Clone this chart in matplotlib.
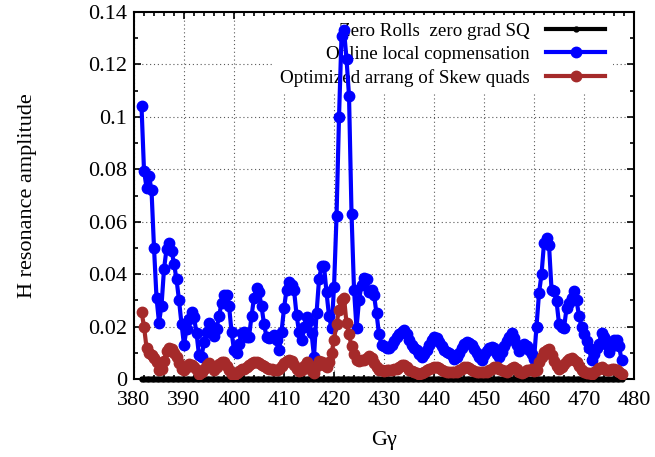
import matplotlib
matplotlib.use("Agg")
import matplotlib.pyplot as plt
import numpy as np
from matplotlib.ticker import MultipleLocator, FuncFormatter

# G gamma sampled every 0.5 from 381.5 to 477.5
g_start, g_stop, g_step = 381.5, 477.5, 0.5

online_comp = [
    0.104, 0.0795, 0.073, 0.0775, 0.072, 0.050, 0.031, 0.0215, 0.028, 0.042,
    0.0495, 0.052, 0.049, 0.044, 0.038, 0.030, 0.021, 0.013, 0.019, 0.023,
    0.0255, 0.0235, 0.0175, 0.009, 0.0085, 0.014, 0.018, 0.0213, 0.020, 0.0165,
    0.019, 0.024, 0.029, 0.032, 0.032, 0.028, 0.018, 0.011, 0.010, 0.0135,
    0.0175, 0.0178, 0.016, 0.016, 0.024, 0.031, 0.0347, 0.033, 0.0277, 0.021,
    0.016, 0.0156, 0.0162, 0.0168, 0.015, 0.011, 0.018, 0.027, 0.034, 0.037,
    0.036, 0.034, 0.0245, 0.018, 0.015, 0.020, 0.0235, 0.022, 0.0175, 0.0085,
    0.025, 0.038, 0.043, 0.043, 0.033, 0.024, 0.0194, 0.035, 0.062, 0.100,
    0.131, 0.133, 0.122, 0.108, 0.063, 0.034, 0.0194, 0.030, 0.036, 0.0385,
    0.038, 0.033, 0.034, 0.032, 0.025, 0.017, 0.013, 0.0124, 0.012, 0.0117,
    0.013, 0.0145, 0.016, 0.017, 0.018, 0.0185, 0.017, 0.015, 0.013, 0.012,
    0.011, 0.0095, 0.0085, 0.0095, 0.011, 0.013, 0.015, 0.016, 0.0155, 0.014,
    0.0125, 0.011, 0.0102, 0.0098, 0.009, 0.0075, 0.0085, 0.010, 0.012, 0.0133,
    0.0143, 0.0138, 0.013, 0.0115, 0.0098, 0.0085, 0.0073, 0.009, 0.0108, 0.012,
    0.0122, 0.0117, 0.0095, 0.0082, 0.0104, 0.0125, 0.0145, 0.016, 0.0175, 0.0155,
    0.013, 0.0105, 0.012, 0.0133, 0.0124, 0.011, 0.0095, 0.0075, 0.020, 0.0328,
    0.040, 0.052, 0.0538, 0.051, 0.034, 0.0335, 0.0296, 0.021, 0.020, 0.0195,
    0.027, 0.029, 0.031, 0.0334, 0.030, 0.024, 0.020, 0.017, 0.0145, 0.012,
    0.0073, 0.0095, 0.012, 0.0135, 0.0175, 0.016, 0.013, 0.0104, 0.0124, 0.015,
    0.015, 0.0125, 0.0073,
]

skew_quads = [
    0.0257, 0.020, 0.012, 0.010, 0.009, 0.008, 0.0065, 0.0035, 0.004, 0.007,
    0.0105, 0.0117, 0.0115, 0.010, 0.0085, 0.0062, 0.004, 0.0034, 0.0045, 0.0058,
    0.0055, 0.0045, 0.0034, 0.002, 0.0025, 0.004, 0.0055, 0.006, 0.0048, 0.0036,
    0.0045, 0.0058, 0.0066, 0.0064, 0.005, 0.0035, 0.002, 0.0015, 0.0022, 0.003,
    0.0038, 0.004, 0.0045, 0.0052, 0.006, 0.0065, 0.0066, 0.0062, 0.0055, 0.0048,
    0.0042, 0.004, 0.0037, 0.0035, 0.0034, 0.0038, 0.005, 0.0062, 0.007, 0.0073,
    0.0068, 0.0055, 0.004, 0.003, 0.0035, 0.005, 0.0064, 0.0055, 0.003, 0.0022,
    0.005, 0.007, 0.0065, 0.0055, 0.0047, 0.0065, 0.0098, 0.015, 0.021, 0.0265,
    0.030, 0.031, 0.0213, 0.017, 0.0124, 0.0095, 0.0073, 0.007, 0.0072, 0.0073,
    0.008, 0.0088, 0.008, 0.0062, 0.0047, 0.0036, 0.0033, 0.0032, 0.0033, 0.0034,
    0.0036, 0.0038, 0.004, 0.0046, 0.0052, 0.0054, 0.0045, 0.0036, 0.003, 0.0026,
    0.0022, 0.002, 0.0022, 0.0028, 0.0034, 0.0039, 0.0043, 0.0046, 0.0047, 0.0042,
    0.0036, 0.003, 0.0028, 0.0026, 0.0025, 0.0026, 0.0028, 0.0034, 0.004, 0.0044,
    0.0045, 0.0042, 0.0036, 0.003, 0.0028, 0.0026, 0.0025, 0.0026, 0.0028, 0.0034,
    0.004, 0.0044, 0.0045, 0.004, 0.0034, 0.003, 0.0028, 0.0034, 0.0042, 0.0045,
    0.004, 0.0025, 0.0022, 0.0028, 0.0033, 0.0036, 0.0038, 0.003, 0.0035, 0.0065,
    0.0085, 0.0102, 0.0112, 0.0115, 0.009, 0.007, 0.005, 0.004, 0.0045, 0.0057,
    0.0068, 0.0076, 0.0079, 0.0073, 0.0066, 0.005, 0.0034, 0.0028, 0.0024, 0.0021,
    0.002, 0.0025, 0.0033, 0.0042, 0.0047, 0.004, 0.0034, 0.0034, 0.0037, 0.004,
    0.0035, 0.0025, 0.002,
]

ggamma = np.arange(g_start, g_stop + g_step / 2, g_step)
zero_rolls = [0.0] * len(ggamma)

labels = ["Zero Rolls  zero grad SQ", "Online local copmensation",
          "Optimized arrang of Skew quads"]

plt.rcParams['font.family'] = ['Liberation Serif', 'DejaVu Serif']

fig = plt.figure(figsize=(6.55, 4.57), dpi=100)
ax = fig.add_axes([0.2046, 0.1707, 0.7634, 0.803])

ax.plot(ggamma, zero_rolls, color='black', lw=3, marker='o', ms=3.5,
        label=labels[0], zorder=3, clip_on=False)
ax.plot(ggamma, online_comp, color='#0000ff', lw=3, marker='o', ms=7.5,
        label=labels[1], zorder=4)
ax.plot(ggamma, skew_quads, color='#a52a2a', lw=3, marker='o', ms=7.5,
        label=labels[2], zorder=5)

ax.set_xlim(380, 480)
ax.set_ylim(0, 0.14)
ax.xaxis.set_major_locator(MultipleLocator(10))
ax.xaxis.set_minor_locator(MultipleLocator(2))
ax.yaxis.set_major_locator(MultipleLocator(0.02))
ax.yaxis.set_minor_locator(MultipleLocator(0.01))
ax.yaxis.set_major_formatter(FuncFormatter(lambda v, p: '%g' % round(v, 4)))

ax.tick_params(which='both', direction='in', top=True, right=True,
               labelsize=16, width=1.2)
ax.tick_params(which='major', length=5)
ax.tick_params(which='minor', length=3)
ax.tick_params(axis='x', pad=9)
ax.tick_params(axis='y', pad=5)
for s in ax.spines.values():
    s.set_linewidth(1.5)

ax.set_axisbelow(True)
ax.grid(True, which='major', color='0.35', lw=0.8, linestyle=(0, (1, 2.5)))

ax.set_xlabel('Gγ', fontsize=16, labelpad=15)
ax.set_ylabel('H resonance amplitude', fontsize=16, labelpad=37)

leg = ax.legend(loc='upper right', bbox_to_anchor=(0.958, 0.992),
                borderaxespad=0, markerfirst=False, numpoints=1,
                fontsize=13.7, handlelength=3.1, handletextpad=0.9,
                labelspacing=0.31, borderpad=0.4, frameon=True,
                fancybox=False, facecolor='white', edgecolor='none',
                framealpha=1)
leg.set_zorder(2.5)

fig.savefig('out.png', dpi=100)
